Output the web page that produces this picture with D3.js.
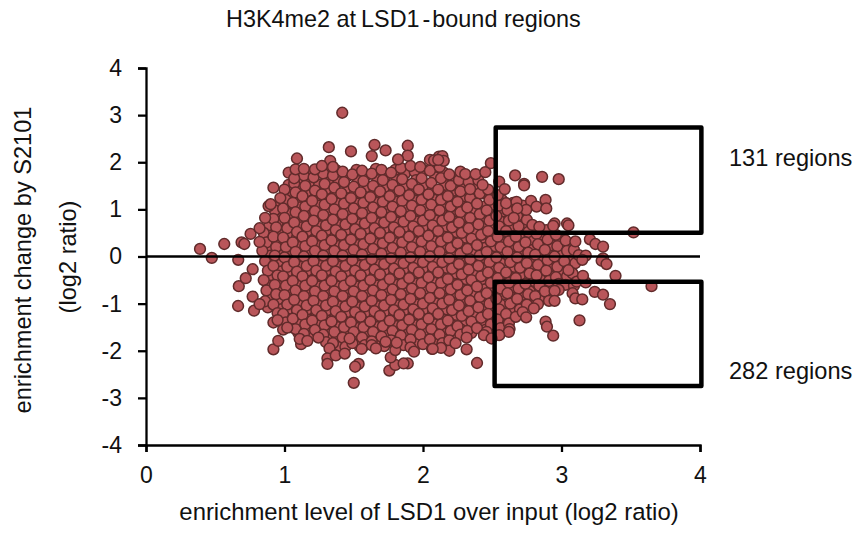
<!DOCTYPE html>
<html>
<head>
<meta charset="utf-8">
<script src="https://cdn.jsdelivr.net/npm/d3@7"></script>
<style>
  html, body { margin: 0; padding: 0; background: #fff; }
  text { font-family: "Liberation Sans", Arial, sans-serif; fill: #111; }
</style>
</head>
<body>
<svg id="chart" width="856" height="533"></svg>
<script>
var xTicks = [0, 1, 2, 3, 4];
var yTicks = [-4, -3, -2, -1, 0, 1, 2, 3, 4];

// dots at the edge of the cloud
var edgePoints = [
  [1.417,3.05],[1.32,2.32],[1.48,2.23],[1.65,2.37],[1.73,2.25],[1.63,2.13],[1.89,2.35],[1.89,2.14],[1.82,2.06],
  [1.09,2.08],[1.33,2.03],[0.92,1.46],[0.39,0.16],[0.565,0.265],[0.475,-0.03],[0.69,0.30],[0.71,0.265],[0.755,0.48],
  [0.82,0.60],[0.82,0.31],[0.86,0.82],[0.885,1.07],[0.90,1.11],[0.97,1.24],[1.03,1.78],[1.07,1.66],[1.08,1.85],
  [1.14,1.86],[1.22,1.85],[1.27,1.92],[1.35,1.90],[2.05,2.05],[2.115,2.12],[2.08,2.04],
  [0.666,-0.07],[0.67,-0.63],[0.665,-1.05],[0.72,-0.46],[0.77,-0.27],[0.78,-1.15],[0.77,-0.85],[0.82,-1.01],
  [0.92,-1.97],[0.955,-1.79],[0.92,-1.40],[0.95,-1.35],[0.99,-1.55],[1.02,-1.51],[1.12,-1.86],[1.11,-1.75],
  [1.165,-1.79],[1.245,-1.72],[1.325,-1.95],[1.31,-2.16],[1.31,-2.28],[1.37,-2.10],[1.435,-2.06],[1.535,-2.28],
  [1.51,-2.34],[1.50,-2.68],[1.757,-2.42],[1.80,-2.30],[1.89,-2.27],[1.86,-2.27],[1.767,-2.14],[1.80,-1.985],
  [1.91,-1.93],[1.935,-2.02],[2.065,-1.96],[1.557,-1.96],[1.63,-1.88],[1.66,-1.95],[1.73,-1.81],[1.81,-1.83],[1.47,-1.74],
  [2.14,2.13],[2.15,2.03],[2.11,2.05],[2.27,1.80],[2.305,1.75],[2.38,1.75],[2.45,1.79],[2.49,1.98],[2.665,1.72],
  [2.73,1.54],[2.73,1.51],[2.86,1.69],[2.98,1.64],[2.55,1.59],[2.59,1.43],[2.43,1.52],[2.34,1.43],[2.60,1.13],
  [2.675,1.16],[2.78,1.18],[2.82,1.06],[2.885,1.20],[2.89,1.02],[2.745,0.99],[2.68,1.02],[2.655,0.82],[2.79,0.67],
  [2.84,0.63],[2.95,0.70],[2.94,0.65],[3.04,0.70],[3.05,0.66],[3.52,0.51],[3.10,0.32],[3.205,0.365],[3.245,0.265],
  [3.30,0.21],[3.125,0.03],[3.175,0.02],[3.30,-0.04],[3.29,-0.09],[3.325,-0.16],[3.39,-0.41],[3.65,-0.63],[3.24,-0.75],
  [3.30,-0.81],[3.35,-1.01],[3.08,-0.78],[3.10,-0.89],[3.15,-0.91],[2.98,-0.71],[2.95,-0.73],[2.91,-0.94],[2.95,-0.94],
  [2.83,-1.01],[2.80,-1.10],[2.745,-1.29],[2.885,-1.38],[2.895,-1.49],[2.94,-1.68],[3.13,-1.355],[2.39,-2.26],[2.625,-1.54],
  [2.62,-1.60],[2.55,-1.67],[2.44,-1.67],[2.495,-1.74],[2.315,-1.97],[2.19,-2.0],[2.13,-1.94],[2.07,-1.96],[2.315,-1.72],
  [2.235,-1.84],[3.11,-0.535],[3.175,-0.55],[3.05,-0.29],[3.155,-0.41],[3.15,-0.07]
];

// inside the cloud the dots hide each other, so these two lists are estimates that fill the same shape
var underPoints = [
  [2.63,1.08],[2.7,0.92],[2.72,1.08],[2.65,1.14],[2.75,0.72],[2.8,0.6],[2.85,0.55],[2.62,0.9],
  [0.89,0.66],[0.9,0.44],[0.88,0.22],[0.9,0.02],[0.91,-0.2],[0.89,-0.42],[0.9,-0.62],[0.89,-0.84],[0.88,-1.08],
  [0.96,1.08],[0.97,0.9],[0.95,0.7],[0.97,0.5],[0.96,0.3],[0.98,0.1],[0.95,-0.12],[0.97,-0.32],[0.96,-0.52],[0.98,-0.72],[0.95,-0.92],[0.97,-1.12],[0.96,-1.3],
  [1.03,1.52],[1.04,1.3],[1.02,1.1],[1.04,0.9],[1.03,0.7],[1.05,0.5],[1.02,0.3],[1.04,0.1],[1.03,-0.12],[1.05,-0.32],[1.02,-0.52],[1.04,-0.72],[1.03,-0.92],[1.05,-1.12],[1.02,-1.32],[1.04,-1.5],
  [1.1,1.62],[1.11,1.44],[1.09,1.24],[1.11,1.04],[1.1,0.82],[1.12,0.62],[1.09,0.4],[1.11,0.2],[1.1,-0.02],[1.12,-0.22],[1.09,-0.42],[1.11,-0.62],[1.1,-0.82],[1.12,-1.04],[1.09,-1.24],[1.11,-1.44],[1.1,-1.62],
  [1.17,1.76],[1.18,1.58],[1.16,1.38],[1.18,1.16],[1.17,0.96],[1.19,0.74],[1.16,0.52],[1.18,0.32],[1.17,0.1],[1.19,-0.1],[1.16,-0.32],[1.18,-0.52],[1.17,-0.74],[1.19,-0.94],[1.16,-1.14],[1.18,-1.34],[1.17,-1.54],[1.19,-1.68],
  [1.24,1.78],[1.25,1.52],[1.23,1.28],[1.25,1.08],[1.24,0.86],[1.26,0.64],[1.23,0.42],[1.25,0.22],[1.24,0.0],[1.26,-0.2],[1.23,-0.42],[1.25,-0.64],[1.24,-0.84],[1.26,-1.04],[1.23,-1.26],[1.25,-1.46],[1.24,-1.62],
  [1.31,1.84],[1.32,1.64],[1.3,1.42],[1.32,1.2],[1.31,0.98],[1.33,0.76],[1.3,0.54],[1.32,0.34],[1.31,0.12],[1.33,-0.1],[1.3,-0.3],[1.32,-0.52],[1.31,-0.74],[1.33,-0.94],[1.3,-1.16],[1.32,-1.36],[1.31,-1.56],[1.33,-1.76],
  [1.38,1.82],[1.39,1.58],[1.37,1.34],[1.39,1.12],[1.38,0.88],[1.4,0.66],[1.37,0.44],[1.39,0.22],[1.38,0.0],[1.4,-0.22],[1.37,-0.42],[1.39,-0.64],[1.38,-0.86],[1.4,-1.06],[1.37,-1.28],[1.39,-1.5],[1.38,-1.72],[1.4,-1.9],
  [1.45,1.7],[1.46,1.46],[1.44,1.22],[1.46,1.0],[1.45,0.78],[1.47,0.56],[1.44,0.34],[1.46,0.12],[1.45,-0.1],[1.47,-0.32],[1.44,-0.54],[1.46,-0.74],[1.45,-0.96],[1.47,-1.18],[1.44,-1.4],[1.46,-1.62],[1.45,-1.84],
  [1.52,1.84],[1.53,1.6],[1.51,1.36],[1.53,1.12],[1.52,0.9],[1.54,0.68],[1.51,0.46],[1.53,0.24],[1.52,0.02],[1.54,-0.2],[1.51,-0.42],[1.53,-0.64],[1.52,-0.86],[1.54,-1.08],[1.51,-1.3],[1.53,-1.52],[1.52,-1.74],[1.54,-1.9],
  [1.59,1.72],[1.6,1.48],[1.58,1.24],[1.6,1.02],[1.59,0.8],[1.61,0.58],[1.58,0.36],[1.6,0.14],[1.59,-0.08],[1.61,-0.3],[1.58,-0.52],[1.6,-0.74],[1.59,-0.96],[1.61,-1.18],[1.58,-1.4],[1.6,-1.62],[1.59,-1.8],
  [1.66,1.86],[1.67,1.62],[1.65,1.38],[1.67,1.14],[1.66,0.92],[1.68,0.7],[1.65,0.48],[1.67,0.26],[1.66,0.04],[1.68,-0.18],[1.65,-0.4],[1.67,-0.62],[1.66,-0.84],[1.68,-1.06],[1.65,-1.28],[1.67,-1.5],[1.66,-1.72],[1.68,-1.88],
  [1.73,1.72],[1.74,1.48],[1.72,1.26],[1.74,1.04],[1.73,0.82],[1.75,0.6],[1.72,0.38],[1.74,0.16],[1.73,-0.06],[1.75,-0.28],[1.72,-0.5],[1.74,-0.72],[1.73,-0.94],[1.75,-1.16],[1.72,-1.38],[1.74,-1.6],[1.73,-1.84],
  [1.8,1.84],[1.81,1.62],[1.79,1.38],[1.81,1.16],[1.8,0.94],[1.82,0.72],[1.79,0.5],[1.81,0.28],[1.8,0.06],[1.82,-0.16],[1.79,-0.38],[1.81,-0.6],[1.8,-0.82],[1.82,-1.04],[1.79,-1.26],[1.81,-1.48],[1.8,-1.7],[1.82,-1.88],
  [1.87,1.76],[1.88,1.5],[1.86,1.28],[1.88,1.06],[1.87,0.84],[1.89,0.62],[1.86,0.4],[1.88,0.18],[1.87,-0.04],[1.89,-0.26],[1.86,-0.48],[1.88,-0.7],[1.87,-0.92],[1.89,-1.14],[1.86,-1.36],[1.88,-1.58],[1.87,-1.8],
  [1.94,1.8],[1.95,1.62],[1.93,1.4],[1.95,1.18],[1.94,0.96],[1.96,0.74],[1.93,0.52],[1.95,0.3],[1.94,0.08],[1.96,-0.14],[1.93,-0.36],[1.95,-0.58],[1.94,-0.8],[1.96,-1.02],[1.93,-1.24],[1.95,-1.46],[1.94,-1.68],[1.96,-1.86],
  [2.01,1.82],[2.02,1.52],[2.0,1.3],[2.02,1.08],[2.01,0.86],[2.03,0.64],[2.0,0.42],[2.02,0.2],[2.01,-0.02],[2.03,-0.24],[2.0,-0.46],[2.02,-0.68],[2.01,-0.9],[2.03,-1.12],[2.0,-1.34],[2.02,-1.56],[2.01,-1.78],
  [2.08,1.9],[2.09,1.68],[2.07,1.42],[2.09,1.2],[2.08,0.98],[2.1,0.76],[2.07,0.54],[2.09,0.32],[2.08,0.1],[2.1,-0.12],[2.07,-0.34],[2.09,-0.56],[2.08,-0.78],[2.1,-1.0],[2.07,-1.22],[2.09,-1.44],[2.08,-1.66],[2.1,-1.86],
  [2.15,1.78],[2.16,1.52],[2.14,1.3],[2.16,1.08],[2.15,0.86],[2.17,0.64],[2.14,0.42],[2.16,0.2],[2.15,-0.02],[2.17,-0.24],[2.14,-0.46],[2.16,-0.68],[2.15,-0.9],[2.17,-1.12],[2.14,-1.34],[2.16,-1.56],[2.15,-1.76],
  [2.22,1.66],[2.23,1.4],[2.21,1.18],[2.23,0.96],[2.22,0.74],[2.24,0.52],[2.21,0.3],[2.23,0.08],[2.22,-0.14],[2.24,-0.36],[2.21,-0.58],[2.23,-0.8],[2.22,-1.02],[2.24,-1.24],[2.21,-1.46],[2.23,-1.68],
  [2.29,1.5],[2.3,1.28],[2.28,1.06],[2.3,0.84],[2.29,0.62],[2.31,0.4],[2.28,0.18],[2.3,-0.04],[2.29,-0.26],[2.31,-0.48],[2.28,-0.7],[2.3,-0.92],[2.29,-1.14],[2.31,-1.36],[2.28,-1.56],
  [2.36,1.46],[2.37,1.18],[2.35,0.96],[2.37,0.74],[2.36,0.52],[2.38,0.3],[2.35,0.08],[2.37,-0.14],[2.36,-0.36],[2.38,-0.58],[2.35,-0.8],[2.37,-1.02],[2.36,-1.24],[2.38,-1.46],[2.35,-1.62],
  [2.43,1.34],[2.44,1.06],[2.42,0.84],[2.44,0.62],[2.43,0.4],[2.45,0.18],[2.42,-0.04],[2.44,-0.26],[2.43,-0.48],[2.45,-0.7],[2.42,-0.92],[2.44,-1.14],[2.43,-1.36],[2.45,-1.56],
  [2.5,1.32],[2.51,1.1],[2.49,0.88],[2.51,0.66],[2.5,0.44],[2.52,0.22],[2.49,0.0],[2.51,-0.22],[2.5,-0.44],[2.52,-0.66],[2.49,-0.88],[2.51,-1.1],[2.5,-1.32],[2.52,-1.56],
  [2.57,1.2],[2.58,0.96],[2.56,0.74],[2.58,0.52],[2.57,0.3],[2.59,0.08],[2.56,-0.14],[2.58,-0.36],[2.57,-0.58],[2.59,-0.8],[2.56,-1.02],[2.58,-1.24],[2.57,-1.46],
  [2.64,1.0],[2.65,0.66],[2.63,0.44],[2.65,0.22],[2.64,0.0],[2.66,-0.22],[2.63,-0.44],[2.65,-0.66],[2.64,-0.88],[2.66,-1.1],[2.63,-1.32],
  [2.71,0.9],[2.72,0.7],[2.7,0.48],[2.72,0.26],[2.71,0.04],[2.73,-0.18],[2.7,-0.4],[2.72,-0.62],[2.71,-0.84],[2.73,-1.04],
  [2.78,0.5],[2.79,0.36],[2.77,0.14],[2.79,-0.08],[2.78,-0.3],[2.8,-0.52],[2.77,-0.74],[2.78,-0.94],
  [2.85,0.46],[2.86,0.16],[2.84,-0.06],[2.86,-0.28],[2.85,-0.5],[2.87,-0.72],[2.84,-0.92],
  [2.92,0.46],[2.93,0.24],[2.91,0.02],[2.93,-0.2],[2.92,-0.42],[2.94,-0.62],
  [2.99,0.34],[3.0,0.1],[2.98,-0.12],[3.0,-0.34],[2.99,-0.54],
  [3.06,0.22],[3.07,0.0],[3.05,-0.2],[3.06,-0.48]
];

var corePoints = [
  [0.85,0.5],[0.87,0.3],[0.84,0.12],[0.86,-0.1],[0.88,-0.3],[0.85,-0.5],[0.87,-0.72],[0.86,-0.95],
  [0.93,0.98],[0.92,0.8],[0.94,0.62],[0.92,0.42],[0.94,0.2],[0.93,0.02],[0.92,-0.2],[0.95,-0.4],[0.93,-0.6],[0.94,-0.8],[0.92,-1.02],[0.95,-1.2],
  [1.0,1.42],[1.01,1.2],[0.99,1.02],[1.0,0.82],[1.02,0.6],[0.99,0.4],[1.01,0.2],[1.0,-0.02],[1.02,-0.22],[0.99,-0.42],[1.01,-0.62],[1.0,-0.82],[1.02,-1.02],[0.99,-1.22],[1.01,-1.4],
  [1.07,1.55],[1.08,1.36],[1.06,1.14],[1.08,0.94],[1.07,0.72],[1.09,0.52],[1.06,0.3],[1.08,0.1],[1.07,-0.12],[1.09,-0.32],[1.06,-0.52],[1.08,-0.72],[1.07,-0.92],[1.09,-1.14],[1.06,-1.32],[1.08,-1.54],
  [1.14,1.72],[1.15,1.5],[1.13,1.28],[1.15,1.06],[1.14,0.86],[1.16,0.64],[1.13,0.42],[1.15,0.22],[1.14,0.0],[1.16,-0.2],[1.13,-0.42],[1.15,-0.62],[1.14,-0.84],[1.16,-1.04],[1.13,-1.24],[1.15,-1.44],[1.14,-1.64],
  [1.21,1.68],[1.22,1.4],[1.2,1.18],[1.22,0.96],[1.21,0.76],[1.23,0.54],[1.2,0.32],[1.22,0.12],[1.21,-0.1],[1.23,-0.3],[1.2,-0.52],[1.22,-0.74],[1.21,-0.94],[1.23,-1.14],[1.2,-1.36],[1.22,-1.56],
  [1.28,1.76],[1.29,1.54],[1.27,1.32],[1.29,1.1],[1.28,0.88],[1.3,0.66],[1.27,0.44],[1.29,0.24],[1.28,0.02],[1.3,-0.2],[1.27,-0.4],[1.29,-0.62],[1.28,-0.84],[1.3,-1.04],[1.27,-1.26],[1.29,-1.46],[1.28,-1.66],[1.3,-1.82],
  [1.35,1.72],[1.36,1.46],[1.34,1.22],[1.36,1.0],[1.35,0.78],[1.37,0.56],[1.34,0.34],[1.36,0.12],[1.35,-0.1],[1.37,-0.32],[1.34,-0.52],[1.36,-0.74],[1.35,-0.96],[1.37,-1.16],[1.34,-1.38],[1.36,-1.6],[1.35,-1.84],
  [1.42,1.8],[1.43,1.58],[1.41,1.34],[1.43,1.12],[1.42,0.9],[1.44,0.68],[1.41,0.46],[1.43,0.24],[1.42,0.02],[1.44,-0.2],[1.41,-0.42],[1.43,-0.62],[1.42,-0.84],[1.44,-1.06],[1.41,-1.28],[1.43,-1.5],[1.42,-1.72],[1.44,-1.92],
  [1.49,1.74],[1.5,1.48],[1.48,1.24],[1.5,1.02],[1.49,0.8],[1.51,0.58],[1.48,0.36],[1.5,0.14],[1.49,-0.08],[1.51,-0.3],[1.48,-0.52],[1.5,-0.74],[1.49,-0.96],[1.51,-1.18],[1.48,-1.4],[1.5,-1.6],[1.49,-1.84],
  [1.56,1.82],[1.57,1.6],[1.55,1.36],[1.57,1.14],[1.56,0.92],[1.58,0.7],[1.55,0.48],[1.57,0.26],[1.56,0.04],[1.58,-0.18],[1.55,-0.4],[1.57,-0.62],[1.56,-0.84],[1.58,-1.06],[1.55,-1.28],[1.57,-1.5],[1.56,-1.72],[1.58,-1.88],
  [1.63,1.76],[1.64,1.5],[1.62,1.26],[1.64,1.04],[1.63,0.82],[1.65,0.6],[1.62,0.38],[1.64,0.16],[1.63,-0.06],[1.65,-0.28],[1.62,-0.5],[1.64,-0.72],[1.63,-0.94],[1.65,-1.16],[1.62,-1.38],[1.64,-1.6],[1.63,-1.8],
  [1.7,1.84],[1.71,1.62],[1.69,1.38],[1.71,1.16],[1.7,0.94],[1.72,0.72],[1.69,0.5],[1.71,0.28],[1.7,0.06],[1.72,-0.16],[1.69,-0.38],[1.71,-0.6],[1.7,-0.82],[1.72,-1.04],[1.69,-1.26],[1.71,-1.48],[1.7,-1.7],[1.72,-1.9],
  [1.77,1.78],[1.78,1.52],[1.76,1.28],[1.78,1.06],[1.77,0.84],[1.79,0.62],[1.76,0.4],[1.78,0.18],[1.77,-0.04],[1.79,-0.26],[1.76,-0.48],[1.78,-0.7],[1.77,-0.92],[1.79,-1.14],[1.76,-1.36],[1.78,-1.58],[1.77,-1.78],
  [1.84,1.88],[1.85,1.64],[1.83,1.4],[1.85,1.18],[1.84,0.96],[1.86,0.74],[1.83,0.52],[1.85,0.3],[1.84,0.08],[1.86,-0.14],[1.83,-0.36],[1.85,-0.58],[1.84,-0.8],[1.86,-1.02],[1.83,-1.24],[1.85,-1.46],[1.84,-1.68],[1.86,-1.88],
  [1.91,1.92],[1.92,1.54],[1.9,1.3],[1.92,1.08],[1.91,0.86],[1.93,0.64],[1.9,0.42],[1.92,0.2],[1.91,-0.02],[1.93,-0.24],[1.9,-0.46],[1.92,-0.68],[1.91,-0.9],[1.93,-1.12],[1.9,-1.34],[1.92,-1.56],[1.91,-1.76],
  [1.98,1.9],[1.99,1.66],[1.97,1.42],[1.99,1.2],[1.98,0.98],[2.0,0.76],[1.97,0.54],[1.99,0.32],[1.98,0.1],[2.0,-0.12],[1.97,-0.34],[1.99,-0.56],[1.98,-0.78],[2.0,-1.0],[1.97,-1.22],[1.99,-1.44],[1.98,-1.66],[2.0,-1.86],
  [2.05,1.82],[2.06,1.56],[2.04,1.32],[2.06,1.1],[2.05,0.88],[2.07,0.66],[2.04,0.44],[2.06,0.22],[2.05,0.0],[2.07,-0.22],[2.04,-0.44],[2.06,-0.66],[2.05,-0.88],[2.07,-1.1],[2.04,-1.32],[2.06,-1.54],[2.05,-1.76],
  [2.12,1.9],[2.13,1.66],[2.11,1.42],[2.13,1.2],[2.12,0.98],[2.14,0.76],[2.11,0.54],[2.13,0.32],[2.12,0.1],[2.14,-0.12],[2.11,-0.34],[2.13,-0.56],[2.12,-0.78],[2.14,-1.0],[2.11,-1.22],[2.13,-1.44],[2.12,-1.66],[2.14,-1.84],
  [2.19,1.74],[2.2,1.5],[2.18,1.28],[2.2,1.06],[2.19,0.84],[2.21,0.62],[2.18,0.4],[2.2,0.18],[2.19,-0.04],[2.21,-0.26],[2.18,-0.48],[2.2,-0.7],[2.19,-0.92],[2.21,-1.14],[2.18,-1.36],[2.2,-1.58],[2.19,-1.78],
  [2.26,1.62],[2.27,1.38],[2.25,1.16],[2.27,0.94],[2.26,0.72],[2.28,0.5],[2.25,0.28],[2.27,0.06],[2.26,-0.16],[2.28,-0.38],[2.25,-0.6],[2.27,-0.82],[2.26,-1.04],[2.28,-1.26],[2.25,-1.48],[2.27,-1.66],
  [2.33,1.58],[2.34,1.24],[2.32,1.04],[2.34,0.82],[2.33,0.6],[2.35,0.38],[2.32,0.16],[2.34,-0.06],[2.33,-0.28],[2.35,-0.5],[2.32,-0.72],[2.34,-0.94],[2.33,-1.16],[2.35,-1.38],[2.32,-1.58],
  [2.4,1.62],[2.41,1.34],[2.39,1.12],[2.41,0.9],[2.4,0.68],[2.42,0.46],[2.39,0.24],[2.41,0.02],[2.4,-0.2],[2.42,-0.42],[2.39,-0.64],[2.41,-0.86],[2.4,-1.08],[2.42,-1.3],[2.39,-1.52],
  [2.47,1.42],[2.48,1.2],[2.46,0.98],[2.48,0.76],[2.47,0.54],[2.49,0.32],[2.46,0.1],[2.48,-0.12],[2.47,-0.34],[2.49,-0.56],[2.46,-0.78],[2.48,-1.0],[2.47,-1.22],[2.49,-1.44],[2.46,-1.6],
  [2.54,1.3],[2.55,1.08],[2.53,0.86],[2.55,0.64],[2.54,0.42],[2.56,0.2],[2.53,-0.02],[2.55,-0.24],[2.54,-0.46],[2.56,-0.68],[2.53,-0.9],[2.55,-1.12],[2.54,-1.34],[2.56,-1.52],
  [2.61,0.98],[2.62,0.76],[2.6,0.54],[2.62,0.32],[2.61,0.1],[2.63,-0.12],[2.6,-0.34],[2.62,-0.56],[2.61,-0.78],[2.63,-1.0],[2.6,-1.22],[2.62,-1.42],
  [2.68,0.86],[2.69,0.64],[2.67,0.42],[2.69,0.2],[2.68,-0.02],[2.7,-0.24],[2.67,-0.46],[2.69,-0.68],[2.68,-0.9],[2.7,-1.12],[2.67,-1.28],
  [2.75,0.78],[2.76,0.52],[2.74,0.3],[2.76,0.08],[2.75,-0.14],[2.77,-0.36],[2.74,-0.58],[2.76,-0.8],[2.75,-1.02],[2.72,-1.18],
  [2.82,0.48],[2.83,0.26],[2.81,0.04],[2.83,-0.18],[2.82,-0.4],[2.84,-0.62],[2.81,-0.84],
  [2.89,0.56],[2.9,0.36],[2.88,0.14],[2.9,-0.08],[2.89,-0.3],[2.91,-0.52],[2.88,-0.74],
  [2.96,0.46],[2.97,0.22],[2.95,0.0],[2.97,-0.22],[2.96,-0.44],[2.98,-0.58],
  [3.03,0.34],[3.04,0.12],[3.02,-0.1],[3.04,-0.42],[3.03,-0.6],
  [3.09,0.14],[3.1,-0.14],[3.08,-0.36],[3.09,-0.62]
];

var boxes = [
  {x0: 2.525, x1: 4.01, y0: 0.505, y1: 2.735},
  {x0: 2.517, x1: 4.01, y0: -2.75, y1: -0.535}
];
var boxLabels = ["131 regions", "282 regions"];

var svg = d3.select("#chart");

var xScale = d3.scaleLinear().domain([0, 4]).range([146, 700]);
var yScale = d3.scaleLinear().domain([-4, 4]).range([445, 68]);

// points first, everything else sits on top of them
var allPoints = underPoints.concat(corePoints).concat(edgePoints);
svg.append("g").selectAll("circle")
  .data(allPoints)
  .enter()
  .append("circle")
  .attr("cx", function(d) { return xScale(d[0]); })
  .attr("cy", function(d) { return yScale(d[1]); })
  .attr("r", 5.4)
  .attr("fill", "#b9565a")
  .attr("stroke", "#612b2b")
  .attr("stroke-width", 1.5);

// zero line
svg.append("line")
  .attr("x1", xScale(0)).attr("x2", xScale(4))
  .attr("y1", yScale(0)).attr("y2", yScale(0))
  .attr("stroke", "#000").attr("stroke-width", 2.4);

// selection boxes
svg.selectAll("rect.box")
  .data(boxes)
  .enter()
  .append("rect")
  .attr("class", "box")
  .attr("x", function(d) { return xScale(d.x0); })
  .attr("y", function(d) { return yScale(d.y1); })
  .attr("width", function(d) { return xScale(d.x1) - xScale(d.x0); })
  .attr("height", function(d) { return yScale(d.y0) - yScale(d.y1); })
  .attr("fill", "none")
  .attr("stroke", "#000")
  .attr("stroke-width", 4.5)
  .attr("stroke-linejoin", "round");

// axes
var xAxis = svg.append("g")
  .attr("transform", "translate(0,445)")
  .call(d3.axisBottom(xScale).tickValues(xTicks).tickFormat(d3.format("d")).tickSizeOuter(0).tickSize(7).tickPadding(15));
var yAxis = svg.append("g")
  .attr("transform", "translate(146,0)")
  .call(d3.axisLeft(yScale).tickValues(yTicks).tickFormat(function(d) { return d; }).tickSizeOuter(0).tickSize(8).tickPadding(16));

[xAxis, yAxis].forEach(function(a) {
  a.selectAll("path, line").attr("stroke", "#000").attr("stroke-width", 2.3);
  a.selectAll("text").style("font-size", "23px").attr("fill", "#111");
});

// labels
var title = svg.append("text").attr("x", 226).attr("y", 27).style("font-size", "23.4px");
title.append("tspan").text("H3K4me2 at");
title.append("tspan").attr("dx", 5).text("LSD1");
title.append("tspan").attr("dx", 3).text("-");
title.append("tspan").attr("dx", 2).text("bound regions");

svg.append("text").attr("x", 429).attr("y", 520).attr("text-anchor", "middle")
  .style("font-size", "23.9px").text("enrichment level of LSD1 over input (log2 ratio)");
svg.append("text").attr("transform", "translate(31,260) rotate(-90)").attr("text-anchor", "middle")
  .style("font-size", "23.6px").text("enrichment change by S2101");
svg.append("text").attr("transform", "translate(76,257) rotate(-90)").attr("text-anchor", "middle")
  .style("font-size", "23.6px").text("(log2 ratio)");

svg.append("text").attr("x", 729).attr("y", 166).style("font-size", "23.6px").text(boxLabels[0]);
svg.append("text").attr("x", 729).attr("y", 379).style("font-size", "23.6px").text(boxLabels[1]);
</script>
</body>
</html>
